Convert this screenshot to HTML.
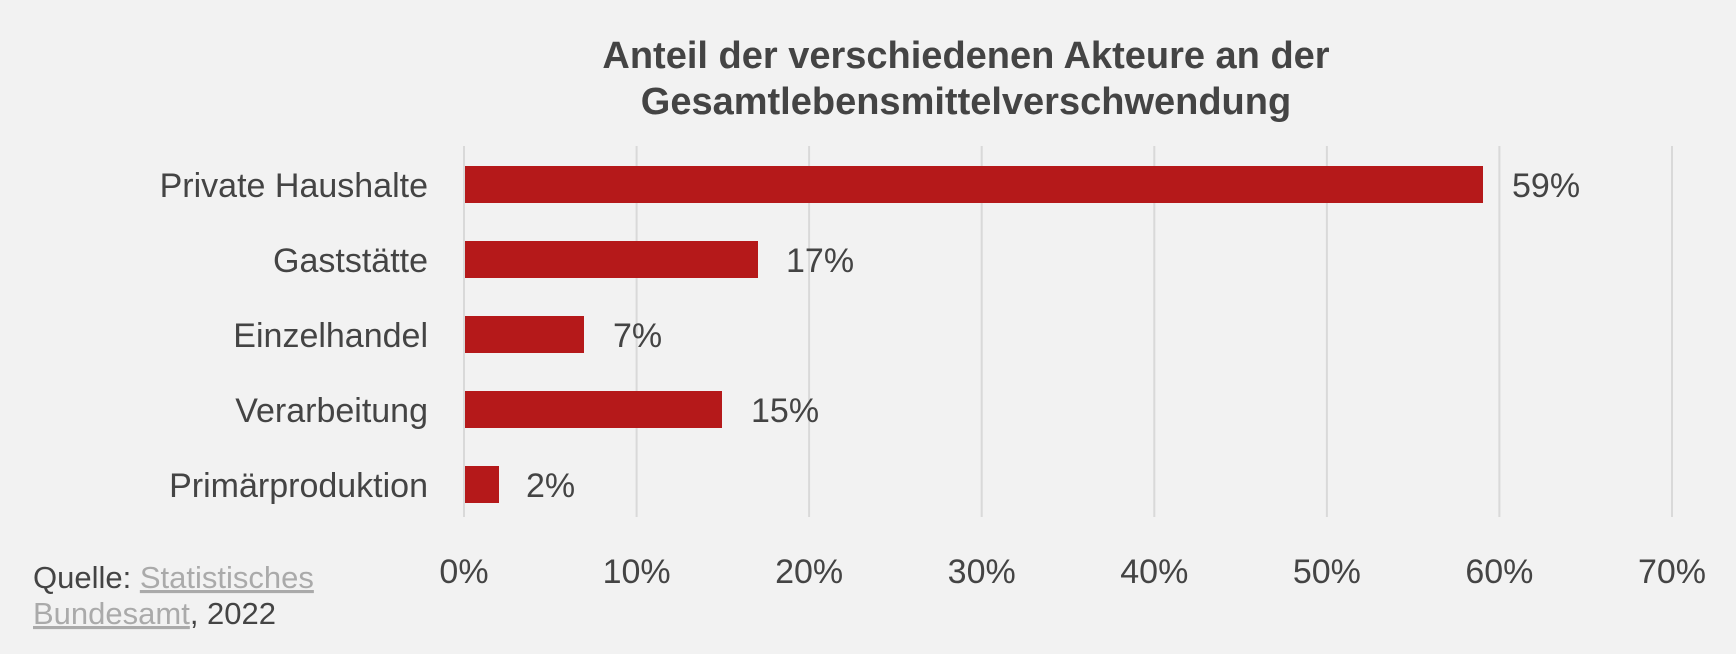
<!DOCTYPE html>
<html><head><meta charset="utf-8"><style>
html,body{margin:0;padding:0;background:#f2f2f2;}
svg{display:block;font-family:"Liberation Sans",sans-serif;}
</style></head><body>
<svg width="1736" height="654" viewBox="0 0 1736 654">
<rect width="1736" height="654" fill="#f2f2f2"/>
<g font-weight="bold" font-size="38" fill="#444" text-anchor="middle">
<text x="966" y="68">Anteil der verschiedenen Akteure an der</text>
<text x="966" y="114">Gesamtlebensmittelverschwendung</text>
</g>
<g stroke="#d9d9d9" stroke-width="2">
<line x1="464" y1="146" x2="464" y2="517"/>
<line x1="636.6" y1="146" x2="636.6" y2="517"/>
<line x1="809.1" y1="146" x2="809.1" y2="517"/>
<line x1="981.7" y1="146" x2="981.7" y2="517"/>
<line x1="1154.3" y1="146" x2="1154.3" y2="517"/>
<line x1="1326.9" y1="146" x2="1326.9" y2="517"/>
<line x1="1499.4" y1="146" x2="1499.4" y2="517"/>
<line x1="1672" y1="146" x2="1672" y2="517"/>
</g>
<g fill="#b5191a">
<rect x="465" y="166" width="1018" height="37"/>
<rect x="465" y="241" width="293" height="37"/>
<rect x="465" y="316" width="119" height="37"/>
<rect x="465" y="391" width="257" height="37"/>
<rect x="465" y="466" width="34" height="37"/>
</g>
<g font-size="34" fill="#444" text-anchor="end">
<text x="428" y="197">Private Haushalte</text>
<text x="428" y="272">Gaststätte</text>
<text x="428" y="347">Einzelhandel</text>
<text x="428" y="422">Verarbeitung</text>
<text x="428" y="497">Primärproduktion</text>
</g>
<g font-size="34" fill="#444">
<text x="1512" y="197">59%</text>
<text x="786" y="272">17%</text>
<text x="613" y="347">7%</text>
<text x="751" y="422">15%</text>
<text x="526" y="497">2%</text>
</g>
<g font-size="34" fill="#444" text-anchor="middle">
<text x="464" y="583">0%</text>
<text x="636.6" y="583">10%</text>
<text x="809.1" y="583">20%</text>
<text x="981.7" y="583">30%</text>
<text x="1154.3" y="583">40%</text>
<text x="1326.9" y="583">50%</text>
<text x="1499.4" y="583">60%</text>
<text x="1672" y="583">70%</text>
</g>
<g font-size="31">
<text x="33" y="588" fill="#444">Quelle:  <tspan fill="#aaa" text-decoration="underline">Statistisches</tspan></text>
<text x="33" y="624" fill="#444"><tspan fill="#aaa" text-decoration="underline">Bundesamt</tspan>, 2022</text>
</g>
</svg>
</body></html>
